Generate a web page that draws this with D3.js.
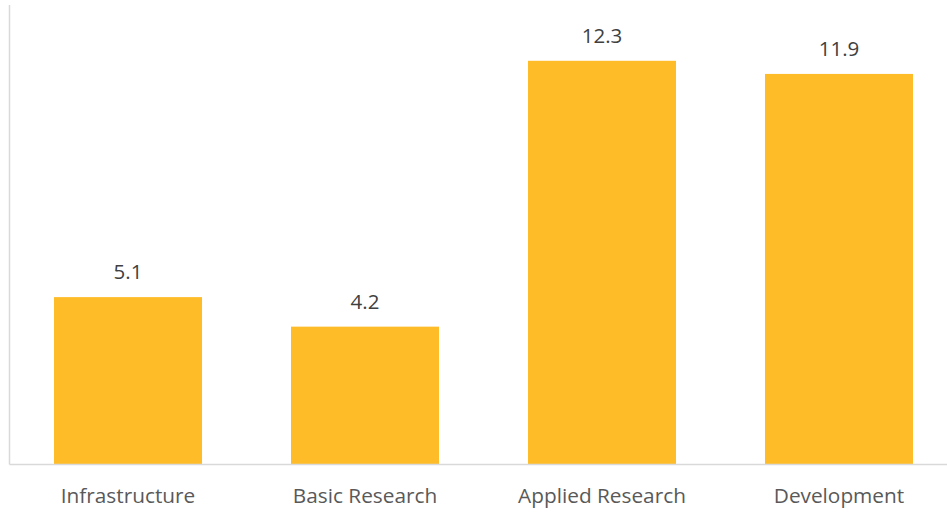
<!DOCTYPE html>
<html>
<head>
<meta charset="utf-8">
<script src="https://cdn.jsdelivr.net/npm/d3@7"></script>
<style>
  html, body { margin: 0; padding: 0; background: #ffffff; }
  svg { display: block; }
  text { font-family: "Open Sans", "Liberation Sans", sans-serif; }
</style>
</head>
<body>
<svg id="chart" width="947" height="514"></svg>
<script>
// Funding by research stage
const categories = ["Infrastructure", "Basic Research", "Applied Research", "Development"];
const values = [5.1, 4.2, 12.3, 11.9];

const svg = d3.select("#chart");
const W = 947, H = 514;
const plotLeft = 9.5, baseline = 464.5, plotTop = 5;

const x = d3.scaleBand()
  .domain(categories)
  .range([plotLeft, plotLeft + 948])
  .paddingInner(0.3755)
  .paddingOuter(0.1878);

const y = d3.scaleLinear()
  .domain([0, 14])
  .range([baseline, plotTop]);

// vertical axis line
svg.append("line")
  .attr("x1", plotLeft).attr("x2", plotLeft)
  .attr("y1", y(14)).attr("y2", baseline)
  .attr("stroke", "#d9d9d9").attr("stroke-width", 1.5);

// bars
svg.append("g").selectAll("rect")
  .data(values)
  .join("rect")
  .attr("x", (d, i) => x(categories[i]))
  .attr("width", x.bandwidth())
  .attr("y", d => y(d))
  .attr("height", d => baseline - y(d))
  .attr("fill", "#FFBC29");

// baseline axis
svg.append("line")
  .attr("x1", plotLeft).attr("x2", W)
  .attr("y1", baseline).attr("y2", baseline)
  .attr("stroke", "#d9d9d9").attr("stroke-width", 1.5);

// value labels
svg.append("g").selectAll("text")
  .data(values)
  .join("text")
  .attr("x", (d, i) => x(categories[i]) + x.bandwidth() / 2)
  .attr("y", d => y(d) - 18)
  .attr("text-anchor", "middle")
  .attr("font-size", 20.5)
  .attr("fill", "#404040")
  .text(d => d.toFixed(1));

// category labels
const xAxis = d3.axisBottom(x).tickSize(0).tickPadding(0);
const gx = svg.append("g")
  .attr("transform", `translate(0,${baseline})`)
  .call(xAxis);
gx.select(".domain").remove();
gx.selectAll("text")
  .attr("dy", null)
  .attr("y", 38)
  .attr("font-size", 20.8)
  .attr("font-family", "'Open Sans', 'Liberation Sans', sans-serif")
  .attr("fill", "#595959");
</script>
</body>
</html>
